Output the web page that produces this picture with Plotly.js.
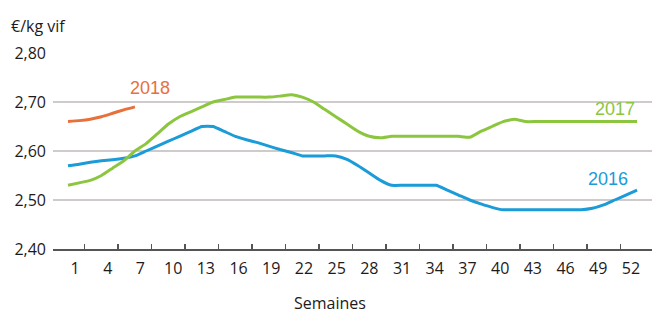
<!DOCTYPE html>
<html><head><meta charset="utf-8">
<script src="https://cdn.plot.ly/plotly-3.0.1.min.js"></script>
<style>html,body{margin:0;padding:0;background:#fff}#c{width:652px;height:318px}</style>
</head><body><div id="c"></div>
<script>
const weeks = [1,2,3,4,5,6,7,8,9,10,11,12,13,14,15,16,17,18,19,20,21,22,23,24,25,26,27,28,29,30,31,32,33,34,35,36,37,38,39,40,41,42,43,44,45,46,47,48,49,50,51,52];
const p2016 = [2.57,2.573,2.577,2.58,2.582,2.585,2.59,2.60,2.61,2.62,2.63,2.64,2.65,2.65,2.64,2.63,2.623,2.617,2.61,2.603,2.597,2.59,2.59,2.59,2.59,2.583,2.57,2.555,2.54,2.53,2.53,2.53,2.53,2.53,2.52,2.51,2.50,2.492,2.485,2.48,2.48,2.48,2.48,2.48,2.48,2.48,2.48,2.483,2.49,2.50,2.51,2.52];
const p2017 = [2.53,2.535,2.54,2.55,2.565,2.58,2.60,2.615,2.635,2.655,2.67,2.68,2.69,2.70,2.705,2.71,2.71,2.71,2.71,2.712,2.715,2.71,2.70,2.685,2.67,2.655,2.64,2.63,2.627,2.63,2.63,2.63,2.63,2.63,2.63,2.63,2.628,2.64,2.65,2.66,2.665,2.66,2.66,2.66,2.66,2.66,2.66,2.66,2.66,2.66,2.66,2.66];
const weeks2018 = [1,2,3,4,5,6,7];
const p2018 = [2.66,2.662,2.665,2.67,2.677,2.684,2.69];
const xTickLabels = [1,4,7,10,13,16,19,22,25,28,31,34,37,40,43,46,49,52];
const yTickVals = [2.4,2.5,2.6,2.7,2.8];
const yTickText = ['2,40','2,50','2,60','2,70','2,80'];
const seriesNames = ['2016','2017','2018'];
const colors = {'2016':'#1b9bd7','2017':'#8cc63f','2018':'#e8703a'};

const tickMarks = [-0.344];
for (let k = 0; k <= 16; k++) tickMarks.push(2.5 + 3*k);

const line = (x,y,name)=>({x:x,y:y,name:name,type:'scatter',mode:'lines',xaxis:'x',yaxis:'y',
  line:{color:colors[name],width:3,shape:'spline',smoothing:0.4},hoverinfo:'skip'});

const traces = [
  line(weeks,p2016,'2016'),
  line(weeks,p2017,'2017'),
  line(weeks2018,p2018,'2018'),
  {x:[1,52],y:[2.4,2.4],xaxis:'x2',yaxis:'y',type:'scatter',mode:'markers',marker:{opacity:0},hoverinfo:'skip'}
];

const textCol = '#1e1a1b';
const layout = {
  width:652,height:318,
  margin:{l:53,r:0,t:53,b:69},
  paper_bgcolor:'#fff',plot_bgcolor:'#fff',
  showlegend:false,
  font:{family:'"Open Sans", sans-serif',color:textCol,size:16},
  xaxis:{range:[-0.344,53.34],tickmode:'array',tickvals:tickMarks,ticktext:tickMarks.map(()=>''),
    ticks:'inside',ticklen:5,tickwidth:1.5,tickcolor:'#555',showgrid:false,zeroline:false,
    showline:true,linecolor:'#555',linewidth:1.5,showticklabels:false,fixedrange:true},
  xaxis2:{overlaying:'x',side:'bottom',range:[-1.02,53.93],tickmode:'array',tickvals:xTickLabels,
    ticktext:xTickLabels.map(String),ticks:'',showgrid:false,zeroline:false,showline:false,
    tickfont:{size:16,color:textCol},ticklabelstandoff:8,fixedrange:true},
  yaxis:{range:[2.4,2.8],tickmode:'array',tickvals:yTickVals,ticktext:yTickText,ticks:'',
    showgrid:true,gridcolor:'#cfcbcb',gridwidth:1.5,zeroline:false,showline:false,
    tickfont:{size:16,color:textCol},ticklabelstandoff:6,fixedrange:true},
  annotations:[
    {text:'€/kg vif',xref:'paper',yref:'paper',x:-0.073,y:1.14,xanchor:'left',yanchor:'middle',showarrow:false,font:{size:16,color:textCol}},
    {text:'Semaines',xref:'paper',yref:'paper',x:0.4624,y:-0.342,xanchor:'center',yanchor:'bottom',showarrow:false,font:{size:16,color:textCol}},
    {text:'2018',xref:'x',yref:'y',x:8.35,y:2.729,showarrow:false,font:{family:'"Liberation Sans", Arial, sans-serif',size:18,color:colors['2018']}},
    {text:'2017',xref:'x',yref:'y',x:50.0,y:2.685,showarrow:false,font:{family:'"Liberation Sans", Arial, sans-serif',size:18,color:colors['2017']}},
    {text:'2016',xref:'x',yref:'y',x:49.4,y:2.542,showarrow:false,font:{family:'"Liberation Sans", Arial, sans-serif',size:18,color:colors['2016']}}
  ]
};
Plotly.newPlot('c',traces,layout,{displayModeBar:false,staticPlot:true});
</script></body></html>
